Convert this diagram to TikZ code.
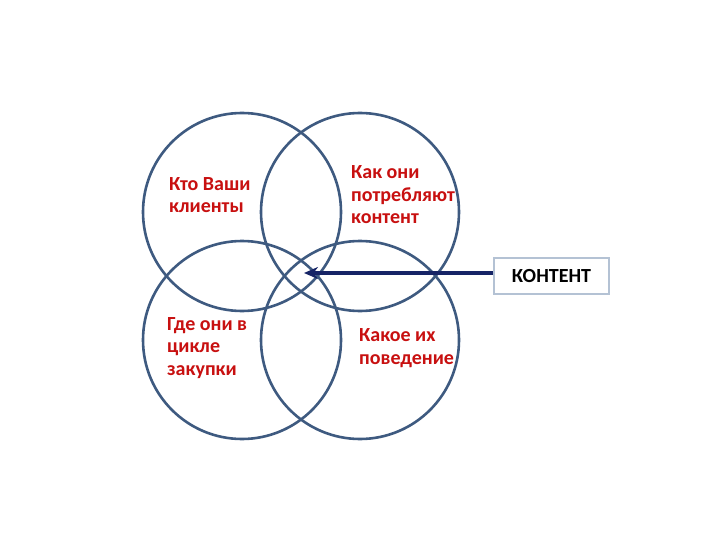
\documentclass[tikz,border=0pt]{standalone}
\usepackage{fontspec}
\setmainfont{Carlito}
\usetikzlibrary{arrows.meta}
\definecolor{ring}{RGB}{62,90,128}
\definecolor{txtred}{RGB}{200,16,16}
\definecolor{arrowblue}{RGB}{22,36,102}
\definecolor{boxline}{RGB}{180,194,212}
\tikzset{
  ring/.style={draw=ring, line width=2.6pt, circle, minimum size=198pt, inner sep=0pt},
  label/.style={text=txtred, font=\fontsize{20}{22.5}\selectfont\bfseries, align=left, anchor=west, inner sep=0pt},
}
\begin{document}
\begin{tikzpicture}[x=1pt,y=-1pt]
\useasboundingbox[fill=white] (0,0) rectangle (720,540);
\node[ring] (1) at (242,212) {};
\node[ring] (2) at (360,212) {};
\node[ring] (3) at (242,340) {};
\node[ring] (4) at (360,340) {};
\node[label] (t1) at (169,195) {Кто Ваши\\клиенты};
\node[label] (t2) at (351,195) {Как они\\потребляют\\контент};
\node[label] (t3) at (167,348) {Где они в\\цикле\\закупки};
\node[label] (t4) at (359,348) {Какое их\\поведение};
\node[draw=boxline, line width=1.6pt, minimum width=115pt, minimum height=36pt, inner sep=0pt,
  font=\fontsize{20}{22}\selectfont\bfseries] (k) at (551.5,276) {КОНТЕНТ};
\coordinate (c) at (304,273);
\path[draw,line width=3.4pt,arrowblue,-{Stealth[length=14pt,width=12pt]}] (k.west |- 0,273) -- (c);
\end{tikzpicture}
\end{document}
